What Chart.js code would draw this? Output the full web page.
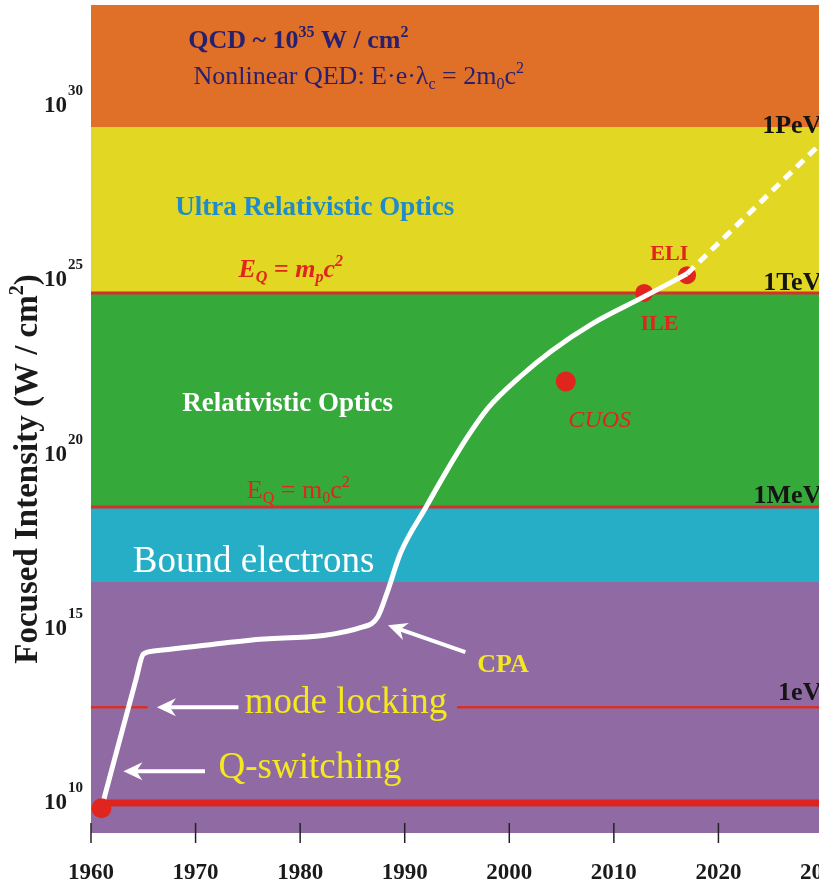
<!DOCTYPE html>
<html>
<head>
<meta charset="utf-8">
<script src="https://cdn.jsdelivr.net/npm/chart.js@4.4.1/dist/chart.umd.min.js"></script>
<style>
  html, body { margin: 0; padding: 0; background: #fff; overflow: hidden; }
  canvas { display: block; }
</style>
</head>
<body>
<canvas id="myCanvas" width="823" height="886"></canvas>
<script>
// peak focused intensity of lasers, log10(W/cm^2) vs year
const years = [1961.0, 1964.3, 1965.0, 1966.0, 1975.2, 1986.0, 1987.4, 1988.3, 1989.6, 1992.0, 1994.0, 1996.0, 1998.0, 2001.0, 2004.0, 2008.0, 2012.8, 2017.0];
const logIntensity = [9.71, 13.40, 14.13, 14.22, 14.53, 14.91, 15.19, 15.88, 17.03, 18.33, 19.38, 20.36, 21.20, 22.08, 22.82, 23.62, 24.37, 25.04];

// projected part (dashed)
const projYears = [2017.0, 2030.0];
const projLog = [25.04, 28.84];

// facilities
const facilityNames = ['CUOS', 'ILE', 'ELI'];
const facilityYears = [2005.4, 2012.9, 2017.0];
const facilityLog = [21.95, 24.49, 25.0];

// first laser and the thick red baseline
const firstLaserYear = 1961.0;
const firstLaserLog = 9.71;
const baselineYears = [1961.0, 2030.0];
const baselineLog = 9.86;

// regimes (band edges in log10 units, bottom to top)
const bandEdges = [9, 16.2, 18.35, 24.49, 29.25, 32.75];
const bandNames = ['Bound electrons (low)', 'Bound electrons', 'Relativistic Optics', 'Ultra Relativistic Optics', 'Nonlinear QED'];
const bandColors = ['#8F6AA3', '#25AEC5', '#36A93B', '#E2D723', '#E06F28'];

// electron energy levels
const energyLabels = ['1eV', '1MeV', '1TeV', '1PeV'];
const energyLog = [12.61, 18.35, 24.49, 29.25];

// y tick exponents, x range
const tickExponents = [10, 15, 20, 25, 30];
const yearMin = 1960, yearMax = 2030;

const RED = '#E0241E';
const SERIF = '"Liberation Serif", "Times New Roman", serif';

function parseRuns(s) {
  const out = [];
  const re = /([\^_])\{([^}]*)\}/g;
  let last = 0, m;
  while ((m = re.exec(s))) {
    if (m.index > last) out.push([s.slice(last, m.index), 0]);
    out.push([m[2], m[1] === '^' ? 1 : -1]);
    last = re.lastIndex;
  }
  if (last < s.length) out.push([s.slice(last), 0]);
  return out;
}

function drawRich(ctx, s, x, y, size, style, color, align) {
  const runs = parseRuns(s);
  const font = k => `${style} ${k ? Math.round(size * 0.6) : size}px ${SERIF}`;
  let total = 0;
  const widths = runs.map(r => { ctx.font = font(r[1]); const w = ctx.measureText(r[0]).width; total += w; return w; });
  let cx = align === 'center' ? x - total / 2 : align === 'right' ? x - total : x;
  ctx.fillStyle = color;
  ctx.textAlign = 'left';
  ctx.textBaseline = 'alphabetic';
  runs.forEach((r, i) => {
    ctx.font = font(r[1]);
    const dy = r[1] === 1 ? -size * 0.42 : r[1] === -1 ? size * 0.2 : 0;
    ctx.fillText(r[0], cx, y + dy);
    cx += widths[i];
  });
}

function drawArrow(ctx, x0, y0, x1, y1) {
  const ang = Math.atan2(y1 - y0, x1 - x0);
  const len = Math.hypot(x1 - x0, y1 - y0);
  ctx.save();
  ctx.translate(x1, y1);
  ctx.rotate(ang);
  ctx.strokeStyle = '#fff';
  ctx.fillStyle = '#fff';
  ctx.lineWidth = 4;
  ctx.beginPath();
  ctx.moveTo(-len, 0);
  ctx.lineTo(-12, 0);
  ctx.stroke();
  ctx.beginPath();
  ctx.moveTo(0, 0);
  ctx.lineTo(-19, -9);
  ctx.lineTo(-13, 0);
  ctx.lineTo(-19, 9);
  ctx.closePath();
  ctx.fill();
  ctx.restore();
}

// text annotations: [text, year, log10 value, size, style, colour, align]
const notes = [
  ['QCD ~ 10^{35} W / cm^{2}', 1969.3, 31.52, 26, 'bold', '#27206F', 'left'],
  ['Nonlinear QED: E·e·λ_{c} = 2m_{0}c^{2}', 1969.8, 30.49, 26, 'normal', '#27206F', 'left'],
  ['Ultra Relativistic Optics', 1981.4, 26.73, 27, 'bold', '#1F8BCA', 'center'],
  ['E_{Q} = m_{p}c^{2}', 1974.1, 24.95, 26, 'italic bold', RED, 'left'],
  ['Relativistic Optics', 1978.8, 21.1, 27, 'bold', '#ffffff', 'center'],
  ['E_{Q} = m_{0}c^{2}', 1974.9, 18.61, 26, 'normal', RED, 'left'],
  ['Bound electrons', 1964.0, 16.48, 37, 'normal', '#ffffff', 'left'],
  ['CPA', 1999.4, 13.62, 26, 'bold', '#F4E81E', 'center'],
  ['mode locking', 1974.7, 12.44, 37, 'normal', '#F4E81E', 'left'],
  ['Q-switching', 1972.2, 10.57, 37, 'normal', '#F4E81E', 'left'],
  ['ELI', 2015.3, 25.44, 22, 'bold', RED, 'center'],
  ['ILE', 2014.35, 23.43, 22, 'bold', RED, 'center'],
  ['CUOS', 2005.65, 20.65, 24, 'italic', RED, 'left']
];
const energyLabelLog = [12.81, 18.46, 24.58, 29.08];

// arrows: [tail year, tail log, tip year, tip log]
const arrows = [
  [1995.8, 14.19, 1988.4, 14.96],
  [1974.1, 12.61, 1966.3, 12.61],
  [1970.9, 10.77, 1963.1, 10.77]
];

// red energy lines: [log, from year, to year]
const levelLines = [
  [energyLog[2], 1960, 2030],
  [energyLog[1], 1960, 2030],
  [energyLog[0], 1960, 1965.4],
  [energyLog[0], 1995.0, 2030]
];

const bandsPlugin = {
  id: 'bands',
  beforeDatasetsDraw(chart) {
    const { ctx, chartArea: a, scales: { x, y } } = chart;
    ctx.save();
    for (let i = 0; i < bandColors.length; i++) {
      const top = y.getPixelForValue(10 ** bandEdges[i + 1]);
      const bot = y.getPixelForValue(10 ** bandEdges[i]);
      ctx.fillStyle = bandColors[i];
      ctx.fillRect(a.left, top, a.right - a.left, bot - top);
    }
    ctx.strokeStyle = '#D5302A';
    levelLines.forEach(([v, t0, t1], i) => {
      const py = y.getPixelForValue(10 ** v);
      ctx.lineWidth = i < 2 ? 3 : 2.5;
      ctx.beginPath();
      ctx.moveTo(x.getPixelForValue(t0), py);
      ctx.lineTo(x.getPixelForValue(t1), py);
      ctx.stroke();
    });
    ctx.restore();
  },
  afterDatasetsDraw(chart) {
    const { ctx, chartArea: a, scales: { x, y } } = chart;
    ctx.save();
    notes.forEach(([s, t, v, size, style, color, align]) => {
      drawRich(ctx, s, x.getPixelForValue(t), y.getPixelForValue(10 ** v), size, style, color, align);
    });
    energyLabels.forEach((s, i) => {
      drawRich(ctx, s, x.getPixelForValue(2029.85), y.getPixelForValue(10 ** energyLabelLog[i]), 26, 'bold', '#141414', 'right');
    });
    arrows.forEach(([t0, v0, t1, v1]) => {
      drawArrow(ctx, x.getPixelForValue(t0), y.getPixelForValue(10 ** v0), x.getPixelForValue(t1), y.getPixelForValue(10 ** v1));
    });

    // x tick marks crossing the bottom edge
    ctx.strokeStyle = '#222';
    ctx.lineWidth = 1.5;
    x.ticks.forEach(tk => {
      const px = x.getPixelForValue(tk.value);
      ctx.beginPath();
      ctx.moveTo(px, a.bottom - 10);
      ctx.lineTo(px, a.bottom + 10);
      ctx.stroke();
    });

    // y tick labels 10^n
    y.ticks.forEach(tk => {
      const py = y.getPixelForValue(tk.value);
      const e = Math.round(Math.log10(tk.value));
      ctx.fillStyle = '#1a1a1a';
      ctx.textBaseline = 'alphabetic';
      ctx.font = `bold 23px ${SERIF}`;
      ctx.textAlign = 'right';
      ctx.fillText('10', a.left - 24, py + 11);
      ctx.font = `bold 15px ${SERIF}`;
      ctx.textAlign = 'left';
      ctx.fillText(String(e), a.left - 23, py - 6);
    });

    // y axis title (baseline on the right side of the rotated text)
    ctx.save();
    ctx.translate(a.left - 54, y.getPixelForValue(10 ** 19.44));
    ctx.rotate(-Math.PI / 2);
    drawRich(ctx, 'Focused Intensity (W / cm^{2})', 0, 0, 33, 'bold', '#1a1a1a', 'center');
    ctx.restore();
    ctx.restore();
  }
};

const ctx = document.getElementById('myCanvas').getContext('2d');
new Chart(ctx, {
  type: 'line',
  data: {
    datasets: [
      {
        label: 'First laser',
        data: [{ x: firstLaserYear, y: 10 ** firstLaserLog }],
        showLine: false,
        pointRadius: 10,
        pointBorderWidth: 0,
        pointBackgroundColor: RED,
        order: 0
      },
      {
        label: 'Peak intensity',
        data: years.map((t, i) => ({ x: t, y: 10 ** logIntensity[i] })),
        borderColor: '#ffffff',
        borderWidth: 5,
        pointRadius: 0,
        cubicInterpolationMode: 'monotone',
        order: 1
      },
      {
        label: 'Projection',
        data: projYears.map((t, i) => ({ x: t, y: 10 ** projLog[i] })),
        borderColor: '#ffffff',
        borderWidth: 5,
        borderDash: [10, 7],
        pointRadius: 0,
        order: 1
      },
      {
        label: 'Facilities',
        data: facilityYears.map((t, i) => ({ x: t, y: 10 ** facilityLog[i], name: facilityNames[i] })),
        showLine: false,
        pointRadius: [10, 9, 9],
        pointBorderWidth: 0,
        pointBackgroundColor: RED,
        order: 2
      },
      {
        label: 'Laser baseline',
        data: baselineYears.map(t => ({ x: t, y: 10 ** baselineLog })),
        borderColor: '#DD2420',
        borderWidth: 7,
        pointRadius: 0,
        order: 3
      }
    ]
  },
  options: {
    responsive: false,
    animation: false,
    layout: { autoPadding: false, padding: { top: 5, left: 0, right: 0, bottom: 0 } },
    plugins: { legend: { display: false }, tooltip: { enabled: false } },
    scales: {
      x: {
        type: 'linear',
        min: yearMin,
        max: yearMax,
        grid: { display: false, drawTicks: false },
        border: { display: false },
        ticks: {
          stepSize: 10,
          padding: 26,
          color: '#1a1a1a',
          font: { family: SERIF, size: 23, weight: 'bold' },
          callback: v => String(v)
        },
        afterFit(s) { s.height = 53; s.paddingLeft = 0; s.paddingRight = 0; }
      },
      y: {
        type: 'logarithmic',
        min: 1e9,
        max: 10 ** 32.75,
        grid: { display: false },
        border: { display: false },
        ticks: { display: false },
        afterBuildTicks(s) { s.ticks = tickExponents.map(e => ({ value: 10 ** e })); },
        afterFit(s) { s.width = 91; s.paddingTop = 0; s.paddingBottom = 0; }
      }
    }
  },
  plugins: [bandsPlugin]
});
</script>
</body>
</html>
